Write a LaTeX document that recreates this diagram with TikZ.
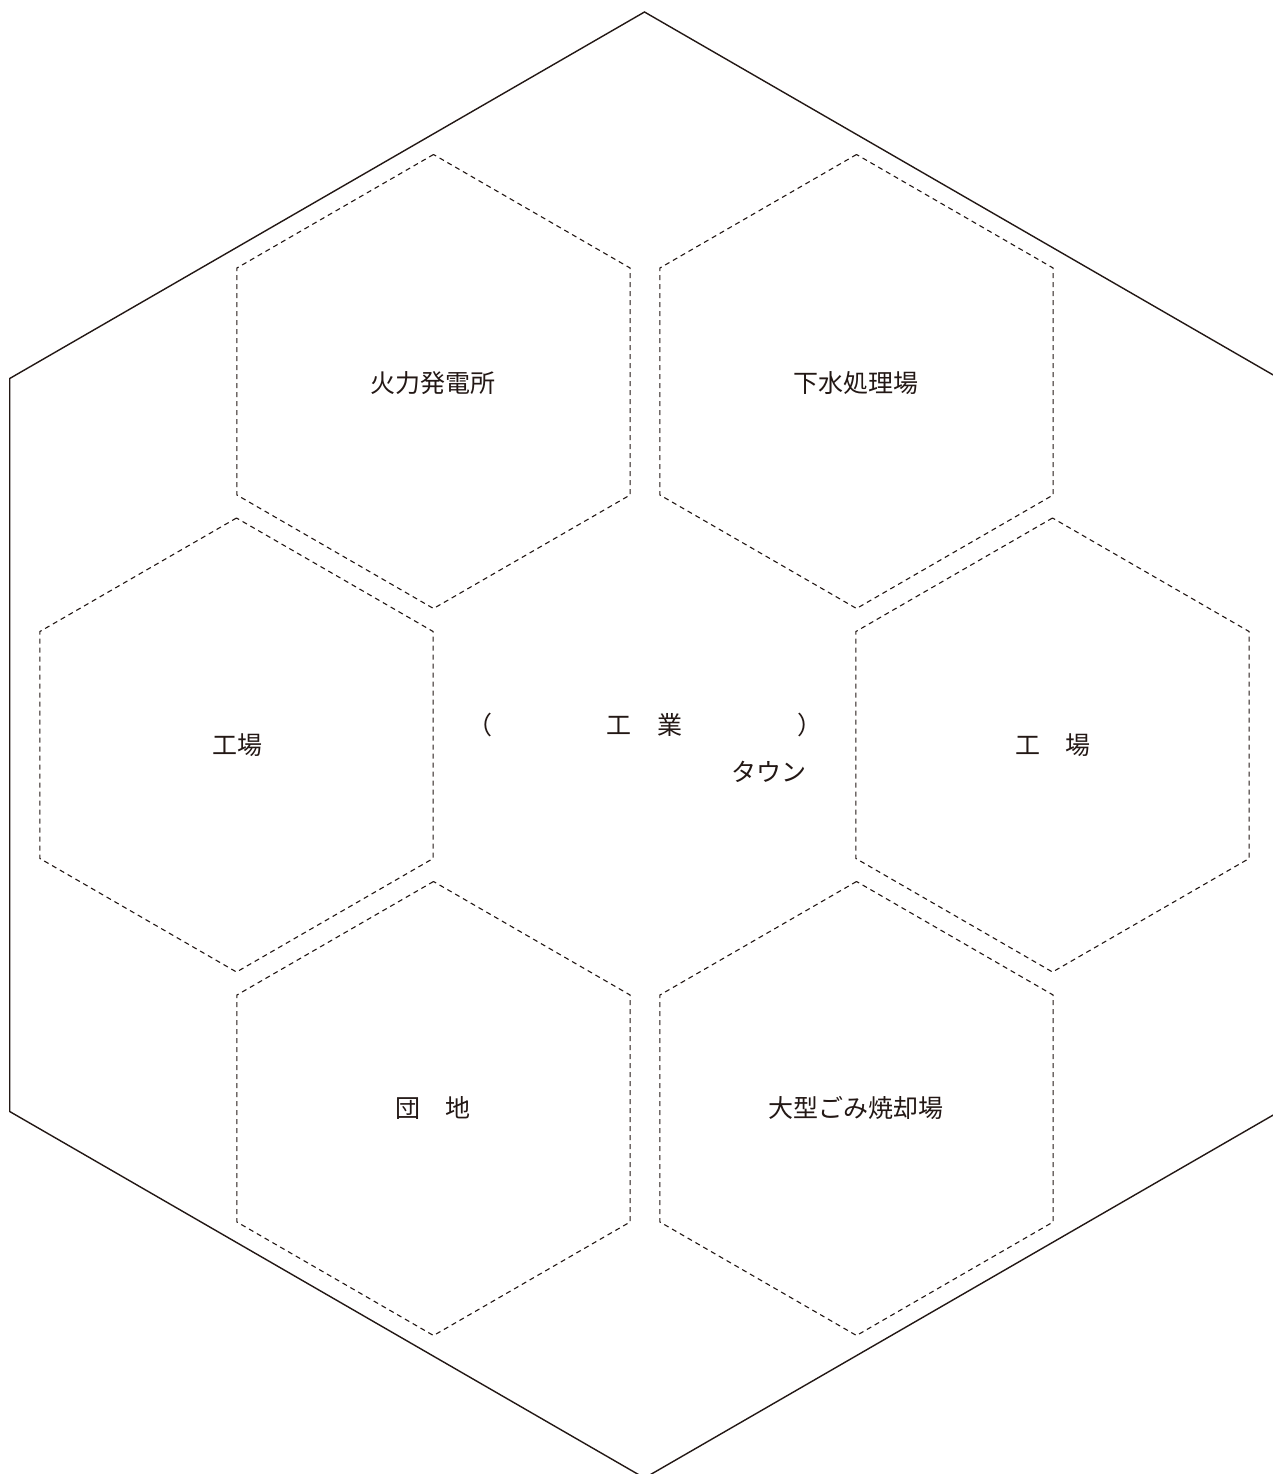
\documentclass[tikz,border=0pt]{standalone}
\usepackage{fontspec}
\newfontfamily\jp{Noto Sans CJK JP}
\usetikzlibrary{shapes.geometric}
\definecolor{ink}{HTML}{231815}
\tikzset{
  hexcell/.style={regular polygon, regular polygon sides=6, shape border rotate=30,
    minimum size=454pt, inner sep=0pt, outer sep=0pt, draw=ink, line width=1.1pt,
    dash pattern=on 5pt off 4pt},
  lbl/.style={inner sep=0pt, text=ink, font=\jp\fontsize{25}{30}\selectfont}
}
\begin{document}
\begin{tikzpicture}[x=1pt,y=-1pt]
\useasboundingbox (0,0) rectangle (1273,1474);
\fill[white] (0,0) rectangle (1273,1474);
\begin{scope}
\clip (0,0) rectangle (1273,1474);
\draw[ink, line width=1.4pt, line join=miter]
  (644.5,12) -- (1279.3,378.5) -- (1279.3,1111.5) -- (644.5,1478)
  -- (9.7,1111.5) -- (9.7,378.5) -- cycle;
\end{scope}
\node[hexcell] (h1) at (433.5,381.5) {};
\node[hexcell] (h2) at (856.5,381.5) {};
\node[hexcell] (h3) at (236.5,745) {};
\node[hexcell] (h4) at (1052.5,745) {};
\node[hexcell] (h5) at (433.5,1108.5) {};
\node[hexcell] (h6) at (856.5,1108.5) {};
\node[lbl] (t1) at (433,383) {火力発電所};
\node[lbl] (t2) at (856,383) {下水処理場};
\node[lbl] (t3) at (237,745) {工場};
\node[lbl] (t4) at (1052.5,745) {工　場};
\node[lbl] (t5) at (433,1108) {団　地};
\node[lbl] (t6) at (856,1108) {大型ごみ焼却場};
\node[lbl] (pl) at (479.5,725) {（};
\node[lbl] (k1) at (618.5,725) {工};
\node[lbl] (k2) at (670,725) {業};
\node[lbl] (pr) at (810,725) {）};
\node[lbl] (tw) at (769,772) {タウン};
\end{tikzpicture}
\end{document}
